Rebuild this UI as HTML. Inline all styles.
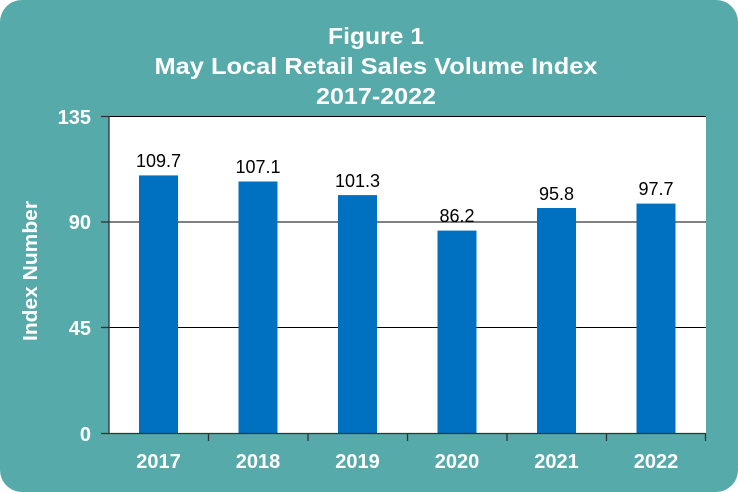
<!DOCTYPE html>
<html><head><style>
html,body{margin:0;padding:0;background:#fff;}
svg{display:block;}
</style></head><body>
<svg width="738" height="492" viewBox="0 0 738 492" xmlns="http://www.w3.org/2000/svg">
<rect x="0" y="0" width="738" height="492" rx="22" fill="#56aaa9"/>
<g font-family="'Liberation Sans',sans-serif" font-weight="bold" fill="#fff" font-size="23" text-anchor="middle">
<text x="376" y="44" textLength="96" lengthAdjust="spacingAndGlyphs">Figure 1</text>
<text x="376" y="74" textLength="443" lengthAdjust="spacingAndGlyphs">May Local Retail Sales Volume Index</text>
<text x="376" y="104" textLength="120" lengthAdjust="spacingAndGlyphs">2017-2022</text>
</g>
<rect x="109" y="116" width="597" height="317" fill="#fff"/>
<g stroke="#000" stroke-width="1">
<line x1="109" y1="222" x2="706" y2="222"/>
<line x1="109" y1="327.5" x2="706" y2="327.5"/>
<line x1="109" y1="116.5" x2="706" y2="116.5"/>
</g>
<g fill="#0070c0">
<rect x="139" y="175.4" width="39" height="257.6"/>
<rect x="238.5" y="181.5" width="39" height="251.5"/>
<rect x="338" y="195.1" width="39" height="237.9"/>
<rect x="437.5" y="230.6" width="39" height="202.4"/>
<rect x="537" y="208" width="39" height="225"/>
<rect x="636.5" y="203.6" width="39" height="229.4"/>
</g>
<g stroke="#333" stroke-width="1.3" fill="none">
<line x1="109" y1="116" x2="109" y2="434"/>
<line x1="109" y1="433.5" x2="706" y2="433.5"/>
<line x1="101" y1="116.5" x2="109" y2="116.5"/>
<line x1="101" y1="222" x2="109" y2="222"/>
<line x1="101" y1="327.5" x2="109" y2="327.5"/>
<line x1="101" y1="433.5" x2="109" y2="433.5"/>
<line x1="208.5" y1="433" x2="208.5" y2="441"/>
<line x1="308" y1="433" x2="308" y2="441"/>
<line x1="407.5" y1="433" x2="407.5" y2="441"/>
<line x1="507" y1="433" x2="507" y2="441"/>
<line x1="606.5" y1="433" x2="606.5" y2="441"/>
<line x1="705.5" y1="433" x2="705.5" y2="441"/>
</g>
<g font-family="'Liberation Sans',sans-serif" font-size="18" fill="#000" text-anchor="middle">
<text x="158.5" y="167">109.7</text>
<text x="258" y="173">107.1</text>
<text x="357.5" y="187">101.3</text>
<text x="457" y="222">86.2</text>
<text x="556.5" y="200">95.8</text>
<text x="656" y="195">97.7</text>
</g>
<g font-family="'Liberation Sans',sans-serif" font-weight="bold" font-size="20" fill="#fff">
<g text-anchor="end">
<text x="91" y="124">135</text>
<text x="91" y="229">90</text>
<text x="91" y="335">45</text>
<text x="91" y="441">0</text>
</g>
<g text-anchor="middle">
<text x="158.5" y="468">2017</text>
<text x="258" y="468">2018</text>
<text x="357.5" y="468">2019</text>
<text x="457" y="468">2020</text>
<text x="556.5" y="468">2021</text>
<text x="656" y="468">2022</text>
<text transform="translate(37,271) rotate(-90)" textLength="140" lengthAdjust="spacingAndGlyphs">Index Number</text>
</g>
</g>
</svg>
</body></html>
